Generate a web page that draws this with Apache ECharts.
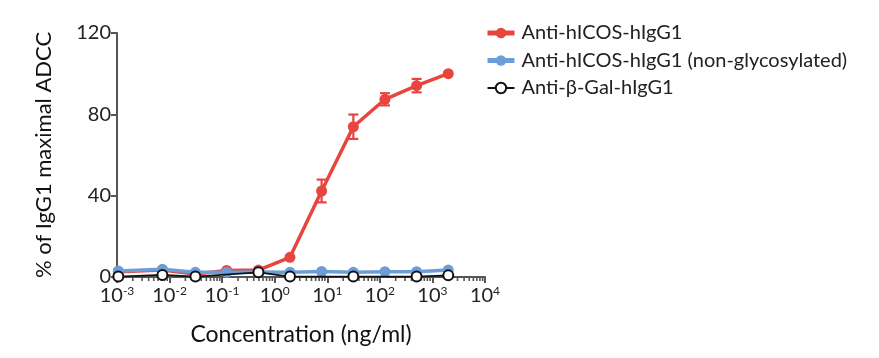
<!DOCTYPE html>
<html><head><meta charset="utf-8">
<script src="https://cdn.jsdelivr.net/npm/echarts@6/dist/echarts.min.js"></script>
<style>html,body{margin:0;padding:0;background:#fff}#c{width:879px;height:358px}</style>
</head><body><div id="c"></div>
<script>
const concentrations = [0.00106, 0.0073, 0.031, 0.122, 0.49, 1.95, 7.8, 31.3, 125, 500, 2000];
const seriesNames = ['Anti-hICOS-hIgG1', 'Anti-hICOS-hIgG1 (non-glycosylated)', 'Anti-\u03B2-Gal-hIgG1'];
const redValues   = [2.6, 3.4, 1.5, 3.2, 3.4, 9.7, 42.3, 73.9, 87.4, 94.1, 100];
const redErrors   = [0, 0, 0, 0, 0, 0, 5.6, 6, 3, 3.3, 0];
const blueValues  = [3.0, 3.8, 2.3, 2.3, 2.4, 2.3, 2.7, 2.3, 2.6, 2.6, 3.4];
const blackValues = [0.2, 1.0, 0.2, null, 2.3, 0.2, null, 0.2, null, 0.2, 0.8];
const yTicks = [0, 40, 80, 120];
const xDecades = [-3, -2, -1, 0, 1, 2, 3, 4];

const RED = '#e8453f', BLUE = '#6b9ed8', BLACK = '#111';
const FONT = 'Lato';

function pairs(vals) {
  const out = [];
  vals.forEach((v, i) => { if (v !== null) out.push([concentrations[i], v]); });
  return out;
}
const errData = concentrations.map((c, i) => [c, redValues[i], redErrors[i]]).filter(d => d[2] > 0);
const minorData = [];
xDecades.slice(0, -1).forEach(d => { for (let m = 2; m <= 9; m++) minorData.push([m * Math.pow(10, d), 0]); });

const chart = echarts.init(document.getElementById('c'), null, {renderer: 'canvas'});
chart.setOption({
  animation: false,
  backgroundColor: '#fff',
  textStyle: {fontFamily: FONT},
  grid: {left: 117, right: 394, top: 33, bottom: 81, containLabel: false},
  legend: {
    orient: 'vertical', left: 480, top: 18, itemGap: 7.5, itemWidth: 27, itemHeight: 13,
    data: [
      {name: seriesNames[0], lineStyle: {width: 5}},
      {name: seriesNames[1], lineStyle: {width: 5}},
      {name: seriesNames[2], lineStyle: {width: 2}}
    ],
    textStyle: {fontFamily: FONT, fontSize: 20, color: '#222', padding: [0, 0, 0, 2]},
    selectedMode: false
  },
  xAxis: {
    type: 'log', logBase: 10, min: 0.001, max: 10000,
    name: 'Concentration (ng/ml)', nameLocation: 'middle', nameGap: 46,
    nameTextStyle: {fontFamily: FONT, fontSize: 23, color: '#111'},
    axisLine: {lineStyle: {color: '#555', width: 2}},
    axisTick: {show: true, length: 6, lineStyle: {color: '#555', width: 2}},
    splitLine: {show: false},
    axisLabel: {
      margin: 8,
      formatter: v => { const e = Math.round(Math.log10(v)); return '{b|10}{s|' + e + '}'; },
      rich: {
        b: {fontFamily: FONT, fontSize: 20, color: '#222'},
        s: {fontFamily: FONT, fontSize: 12, color: '#222', verticalAlign: 'top', padding: [0, 0, 9, 0]}
      }
    }
  },
  yAxis: {
    type: 'value', min: 0, max: 120, interval: 40,
    name: '% of IgG1 maximal ADCC', nameLocation: 'middle', nameGap: 62, nameRotate: 90,
    nameTextStyle: {fontFamily: FONT, fontSize: 22, color: '#111'},
    axisLine: {show: true, lineStyle: {color: '#555', width: 2}},
    axisTick: {show: true, length: 6, lineStyle: {color: '#555', width: 2}},
    splitLine: {show: false},
    axisLabel: {margin: 6, fontFamily: FONT, fontSize: 20, color: '#222',
      formatter: v => yTicks.includes(v) ? String(v) : ''}
  },
  series: [
    {
      type: 'custom', name: 'minorTicks', silent: true, z: 1,
      data: minorData,
      renderItem: (params, api) => {
        const p = api.coord([api.value(0), 0]);
        return {type: 'line', shape: {x1: p[0], y1: p[1] + 1, x2: p[0], y2: p[1] + 4},
          style: {stroke: '#555', lineWidth: 1.6}};
      }
    },
    {
      name: seriesNames[0], type: 'line', data: pairs(redValues), z: 3,
      symbol: 'circle', symbolSize: 11, color: RED,
      lineStyle: {color: RED, width: 3.5}, itemStyle: {color: RED}
    },
    {
      type: 'custom', name: 'redErr', silent: true, z: 3,
      data: errData,
      renderItem: (params, api) => {
        const x = api.value(0), y = api.value(1), e = api.value(2);
        const top = api.coord([x, y + e]), bot = api.coord([x, y - e]);
        const w = 5;
        const st = {stroke: RED, lineWidth: 2.2};
        return {type: 'group', children: [
          {type: 'line', shape: {x1: top[0], y1: top[1], x2: bot[0], y2: bot[1]}, style: st},
          {type: 'line', shape: {x1: top[0] - w, y1: top[1], x2: top[0] + w, y2: top[1]}, style: st},
          {type: 'line', shape: {x1: bot[0] - w, y1: bot[1], x2: bot[0] + w, y2: bot[1]}, style: st}
        ]};
      }
    },
    {
      name: seriesNames[1], type: 'line', data: pairs(blueValues), z: 4,
      symbol: 'circle', symbolSize: 11, color: BLUE,
      lineStyle: {color: BLUE, width: 3.5}, itemStyle: {color: BLUE}
    },
    {
      name: seriesNames[2], type: 'line', data: pairs(blackValues), z: 5,
      symbol: 'circle', symbolSize: 10, color: BLACK,
      lineStyle: {color: BLACK, width: 1.8},
      itemStyle: {color: '#fff', borderColor: BLACK, borderWidth: 2}
    }
  ]
});
</script></body></html>
